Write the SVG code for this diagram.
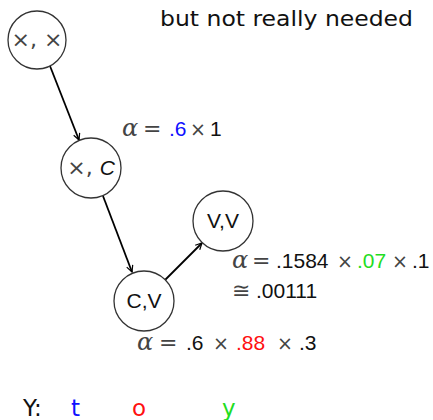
<svg xmlns="http://www.w3.org/2000/svg" width="433" height="420" viewBox="0 0 433 420">
<style>
.node circle{fill:#fff;stroke:#333;stroke-width:1.3}
.node text{font-family:"Liberation Sans",Arial,sans-serif;font-size:21px;fill:#111;text-anchor:middle}
.hd{font-family:"DejaVu Sans",sans-serif;font-size:22px;fill:#111}
.lg{font-family:"DejaVu Sans",sans-serif;font-size:23px}
.mt{font-family:"Liberation Sans",Arial,sans-serif;font-size:21px;fill:#111}
.a{font-family:"DejaVu Serif",serif;font-style:italic;fill:#444;font-size:24px}
.op{font-family:"DejaVu Sans",sans-serif;fill:#444;font-size:22px}
.x{font-family:"DejaVu Sans",sans-serif;fill:#444;font-size:19px}
.b{fill:#1010ff}.r{fill:#ff1010}.g{fill:#22dd22}.k{fill:#111}
.edge{stroke:#000;stroke-width:1.8;fill:none;marker-end:url(#ah)}
</style>
<defs>
<marker id="ah" viewBox="0 0 10 10" refX="9" refY="5" markerWidth="8" markerHeight="8" markerUnits="userSpaceOnUse" orient="auto">
<path d="M1,1 L9,5 L1,9" fill="none" stroke="#000" stroke-width="1.5"/>
</marker>
</defs>
<rect width="433" height="420" fill="#fff"/>
<text class="hd" x="160" y="26" textLength="253" lengthAdjust="spacingAndGlyphs">but not really needed</text>
<g id="edges">
<line class="edge" x1="50" y1="66" x2="79" y2="140"/>
<line class="edge" x1="103" y1="196" x2="132" y2="272"/>
<line class="edge" x1="165" y1="280" x2="202" y2="243"/>
</g>
<g id="n1" class="node"><circle cx="37" cy="40" r="29"/><text x="37" y="47"><tspan class="op">×, ×</tspan></text></g>
<g id="n2" class="node"><circle cx="91" cy="168" r="30"/><text x="91" y="175"><tspan class="op">×, </tspan><tspan font-style="italic">C</tspan></text></g>
<g id="n3" class="node"><circle cx="223" cy="221" r="30"/><text x="223" y="228">V,V</text></g>
<g id="n4" class="node"><circle cx="144" cy="301" r="30"/><text x="144" y="308">C,V</text></g>
<text class="mt" y="136"><tspan class="a" x="122">α</tspan><tspan class="op" x="143">=</tspan><tspan class="b" x="169">.6</tspan><tspan class="x" x="190">×</tspan><tspan x="210">1</tspan></text>
<text class="mt" y="268"><tspan class="a" x="232">α</tspan><tspan class="op" x="252">=</tspan><tspan x="276">.1584</tspan><tspan class="x" x="337">×</tspan><tspan class="g" x="357">.07</tspan><tspan class="x" x="392">×</tspan><tspan x="412">.1</tspan></text>
<text class="mt" y="298"><tspan class="op" x="232">≅</tspan><tspan x="256">.00111</tspan></text>
<text class="mt" y="350"><tspan class="a" x="137">α</tspan><tspan class="op" x="159">=</tspan><tspan x="186">.6</tspan><tspan class="x" x="213">×</tspan><tspan class="r" x="236">.88</tspan><tspan class="x" x="277">×</tspan><tspan x="299">.3</tspan></text>
<text class="lg" y="416"><tspan class="k" x="23">Y:</tspan><tspan class="b" x="71">t</tspan><tspan class="r" x="132">o</tspan><tspan class="g" x="222">y</tspan></text>
</svg>
